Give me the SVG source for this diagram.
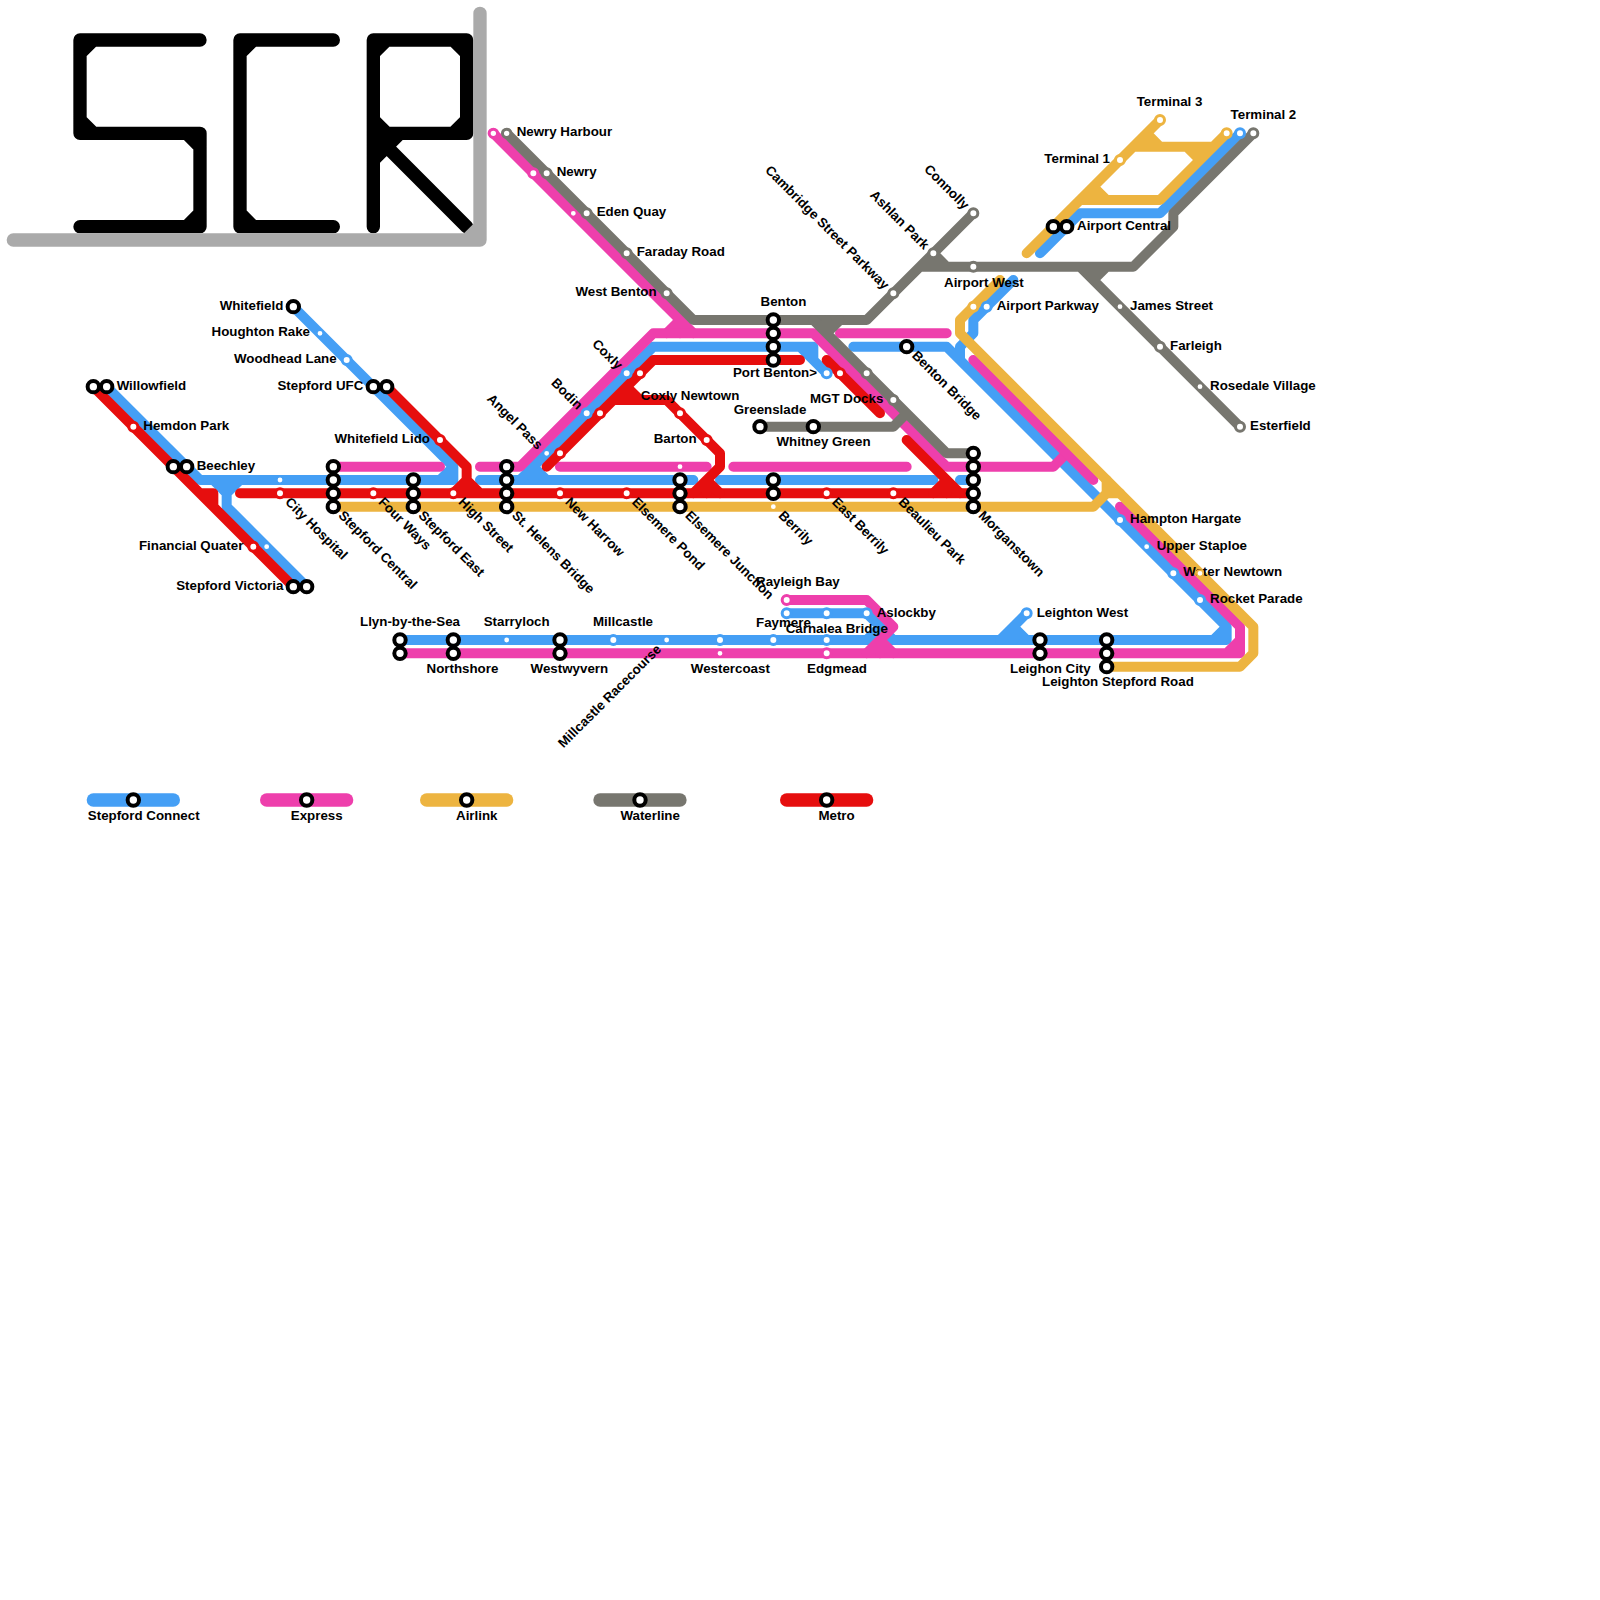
<svg xmlns="http://www.w3.org/2000/svg" width="1600" height="1600" viewBox="0 0 1600 1600">
<style>
text{font-family:"Liberation Sans",Arial,sans-serif;font-weight:700;font-size:13.33px;fill:#000}
.e{text-anchor:end}
.ln path{fill:none;stroke-width:.75;stroke-linecap:round;stroke-linejoin:round}
.ln path.k{stroke-width:1}
.bl{stroke:#459ff5}.pk{stroke:#ee3fac}.ye{stroke:#edb440}.gy{stroke:#77766f}.rd{stroke:#e60e0e}
.tt path{fill:none;stroke-width:1;stroke-linecap:round;stroke-linejoin:round}
circle{fill:#fff}
.i{stroke:#000;stroke-width:4}
.m{stroke-width:3}
.s{stroke-width:1.6}
</style>
<rect width="1600" height="1600" fill="#fff"/>
<g id="title" class="tt" transform="scale(13.3333)">
<path stroke="#000" d="M15 3H6V10H15V17H6M6 4L7 3M6 9L7 10M14 10L15 11M15 16L14 17"/>
<path stroke="#000" d="M25 3H18V17H25M18 4L19 3M18 16L19 17"/>
<path stroke="#000" d="M28 17V3H35V10H28M28 10L35 17M28 4L29 3M34 3L35 4M35 9L34 10M28 9L29 10M28 12L30 10"/>
<path stroke="#aaa" d="M36 1V18H1M35 18L36 17"/>
</g>
<g id="connectors" class="ln" transform="scale(13.3333)">
<g id="line-stepford-connect">
<path class="bl" d="M8 29L15 36H34V35L22 23M33 36L34 35M16 36L17 37L18 36M17 36V38L23 44"/>
<path class="bl" d="M36 36H52M54 36H70M72 36H73"/>
<path class="bl" d="M39 36L49 26H61V27L62 28M60 26L61 27M40 35L41 36M40 35V36"/>
<path class="bl" d="M64 26H71L92 47V48H30M91 48L92 47M72 26V27M76 21L73 24V25L72 26"/>
<path class="bl" d="M78 19L81 16H87L93 10"/>
<path class="bl" d="M59 46H65L67 48M65 48L66 47M66 47V48"/>
<path class="bl" d="M77 46L75 48M76 47L77 48M76 47V48"/>
<path class="bl k" d="M7 60H13"/>
</g>
<g id="line-express">
<path class="pk" d="M37 10L52 25M50 25L51 24M51 24V25"/>
<path class="pk" d="M25 35H33M36 35H39L49 25H61L71 35H79L80 34M42 35H53M55 35H68M63 25H71"/>
<path class="pk" d="M73 27L82 36M84 38L93 47V49H30M92 49L93 48"/>
<path class="pk" d="M59 45H65L67 47L65 49M66 48L67 49M66 48V49"/>
<path class="pk k" d="M20 60H26"/>
</g>
<g id="line-airlink">
<path class="ye" d="M25 38H82L83 37H84M83 37V36"/>
<path class="ye" d="M75 21L72 24V25L94 47V49L93 50H83"/>
<path class="ye" d="M77 19L87 9M86 10L87 11M86 10V11M85 11H91M89 11L90 12M90 11V12M81 15H87L92 10M82 14L83 15M82 14V15"/>
<path class="ye k" d="M32 60H38"/>
</g>
<g id="line-waterline">
<path class="gy" d="M38 10L52 24H65L73 16M70 19L71 20M70 19V20M69 20H85L88 17V16L94 10M81 20L93 32M82 21L83 20M82 20V21"/>
<path class="gy" d="M61 24L71 34H73M62 25L63 24M62 24V25M57 32H67L68 31"/>
<path class="gy k" d="M45 60H51"/>
</g>
<g id="line-metro">
<path class="rd" d="M7 29L22 44M15 37H16V38"/>
<path class="rd" d="M18 37H73M29 29L35 35V37M34 37L35 36L36 37"/>
<path class="rd" d="M41 35L49 27H60M62 27L66 31M45 31L46 30H50L54 34V35L52 37M47 29L48 30M47 29V30M53 36L54 37M53 36V37"/>
<path class="rd" d="M68 33L72 37M71 36L70 37M71 36V37"/>
<path class="rd k" d="M59 60H65"/>
</g>
</g>
<g id="nodes">
<g id="n-willowfield"><text x="116.67" y="389.67">Willowfield</text><circle class="i" cx="93.33" cy="386.67" r="5.7"/><circle class="i" cx="106.67" cy="386.67" r="5.7"/></g>
<g id="n-hemdon-park"><text x="143.33" y="429.67">Hemdon Park</text><circle class="m rd" cx="133.33" cy="426.67" r="4.5"/></g>
<g id="n-beechley"><text x="196.67" y="469.67">Beechley</text><circle class="i" cx="173.33" cy="466.67" r="5.7"/><circle class="i" cx="186.67" cy="466.67" r="5.7"/></g>
<g id="n-financial-quater"><text class="e" x="243.33" y="549.67">Financial Quater</text><circle class="m rd" cx="253.33" cy="546.67" r="4.5"/><circle class="s bl" cx="266.67" cy="546.67" r="3.2"/></g>
<g id="n-stepford-victoria"><text class="e" x="283.33" y="589.67">Stepford Victoria</text><circle class="i" cx="293.33" cy="586.67" r="5.7"/><circle class="i" cx="306.67" cy="586.67" r="5.7"/></g>
<g id="n-whitefield"><text class="e" x="283.33" y="309.67">Whitefield</text><circle class="i" cx="293.33" cy="306.67" r="5.7"/></g>
<g id="n-houghton-rake"><text class="e" x="310" y="336.33">Houghton Rake</text><circle class="s bl" cx="320" cy="333.33" r="3.2"/></g>
<g id="n-woodhead-lane"><text class="e" x="336.67" y="363">Woodhead Lane</text><circle class="m bl" cx="346.67" cy="360" r="4.5"/></g>
<g id="n-stepford-ufc"><text class="e" x="363.33" y="389.67">Stepford UFC</text><circle class="i" cx="373.33" cy="386.67" r="5.7"/><circle class="i" cx="386.67" cy="386.67" r="5.7"/></g>
<g id="n-whitefield-lido"><text class="e" x="430" y="443">Whitefield Lido</text><circle class="m rd" cx="440" cy="440" r="4.5"/></g>
<g id="n-city-hospital"><text x="284.5" y="502.83" transform="rotate(45 284.5 502.83)">City Hospital</text><circle class="s bl" cx="280" cy="480" r="3.2"/><circle class="m rd" cx="280" cy="493.33" r="4.5"/></g>
<g id="n-stepford-central"><text x="337.83" y="516.17" transform="rotate(45 337.83 516.17)">Stepford Central</text><circle class="i" cx="333.33" cy="466.67" r="5.7"/><circle class="i" cx="333.33" cy="480" r="5.7"/><circle class="i" cx="333.33" cy="493.33" r="5.7"/><circle class="i" cx="333.33" cy="506.67" r="5.7"/></g>
<g id="n-four-ways"><text x="377.83" y="502.83" transform="rotate(45 377.83 502.83)">Four Ways</text><circle class="m rd" cx="373.33" cy="493.33" r="4.5"/></g>
<g id="n-stepford-east"><text x="417.83" y="516.17" transform="rotate(45 417.83 516.17)">Stepford East</text><circle class="i" cx="413.33" cy="480" r="5.7"/><circle class="i" cx="413.33" cy="493.33" r="5.7"/><circle class="i" cx="413.33" cy="506.67" r="5.7"/></g>
<g id="n-high-street"><text x="457.83" y="502.83" transform="rotate(45 457.83 502.83)">High Street</text><circle class="m rd" cx="453.33" cy="493.33" r="4.5"/></g>
<g id="n-st-helens-bridge"><text x="511.17" y="516.17" transform="rotate(45 511.17 516.17)">St. Helens Bridge</text><circle class="i" cx="506.67" cy="466.67" r="5.7"/><circle class="i" cx="506.67" cy="480" r="5.7"/><circle class="i" cx="506.67" cy="493.33" r="5.7"/><circle class="i" cx="506.67" cy="506.67" r="5.7"/></g>
<g id="n-new-harrow"><text x="564.5" y="502.83" transform="rotate(45 564.5 502.83)">New Harrow</text><circle class="m rd" cx="560" cy="493.33" r="4.5"/></g>
<g id="n-elsemere-pond"><text x="631.17" y="502.83" transform="rotate(45 631.17 502.83)">Elsemere Pond</text><circle class="m rd" cx="626.67" cy="493.33" r="4.5"/></g>
<g id="n-elsemere-junction"><text x="684.5" y="516.17" transform="rotate(45 684.5 516.17)">Elsemere Junction</text><circle class="s pk" cx="680" cy="466.67" r="3.2"/><circle class="i" cx="680" cy="480" r="5.7"/><circle class="i" cx="680" cy="493.33" r="5.7"/><circle class="i" cx="680" cy="506.67" r="5.7"/></g>
<g id="n-berrily"><text x="777.83" y="516.17" transform="rotate(45 777.83 516.17)">Berrily</text><circle class="i" cx="773.33" cy="480" r="5.7"/><circle class="i" cx="773.33" cy="493.33" r="5.7"/><circle class="s ye" cx="773.33" cy="506.67" r="3.2"/></g>
<g id="n-east-berrily"><text x="831.17" y="502.83" transform="rotate(45 831.17 502.83)">East Berrily</text><circle class="m rd" cx="826.67" cy="493.33" r="4.5"/></g>
<g id="n-beaulieu-park"><text x="897.83" y="502.83" transform="rotate(45 897.83 502.83)">Beaulieu Park</text><circle class="m rd" cx="893.33" cy="493.33" r="4.5"/></g>
<g id="n-morganstown"><text x="977.83" y="516.17" transform="rotate(45 977.83 516.17)">Morganstown</text><circle class="i" cx="973.33" cy="453.33" r="5.7"/><circle class="i" cx="973.33" cy="466.67" r="5.7"/><circle class="i" cx="973.33" cy="480" r="5.7"/><circle class="i" cx="973.33" cy="493.33" r="5.7"/><circle class="i" cx="973.33" cy="506.67" r="5.7"/></g>
<g id="n-angel-pass"><text class="e" x="537.17" y="450.33" transform="rotate(45 537.17 450.33)">Angel Pass</text><circle class="s bl" cx="546.67" cy="453.33" r="3.2"/><circle class="m rd" cx="560" cy="453.33" r="4.5"/></g>
<g id="n-bodin"><text class="e" x="577.17" y="410.33" transform="rotate(45 577.17 410.33)">Bodin</text><circle class="m bl" cx="586.67" cy="413.33" r="4.5"/><circle class="m rd" cx="600" cy="413.33" r="4.5"/></g>
<g id="n-coxly"><text class="e" x="617.17" y="370.33" transform="rotate(45 617.17 370.33)">Coxly</text><circle class="m bl" cx="626.67" cy="373.33" r="4.5"/><circle class="m rd" cx="640" cy="373.33" r="4.5"/></g>
<g id="n-coxly-newtown"><text x="640.8" y="400">Coxly Newtown</text><circle class="m rd" cx="680" cy="413.33" r="4.5"/></g>
<g id="n-barton"><text class="e" x="696.67" y="443">Barton</text><circle class="m rd" cx="706.67" cy="440" r="4.5"/></g>
<g id="n-benton"><text x="760.5" y="305.67">Benton</text><circle class="i" cx="773.33" cy="320" r="5.7"/><circle class="i" cx="773.33" cy="333.33" r="5.7"/><circle class="i" cx="773.33" cy="346.67" r="5.7"/><circle class="i" cx="773.33" cy="360" r="5.7"/></g>
<g id="n-port-benton"><text class="e" x="817" y="377.33">Port Benton&gt;</text><circle class="m bl" cx="826.67" cy="373.33" r="4.5"/><circle class="m rd" cx="840" cy="373.33" r="4.5"/></g>
<g id="n-unnamed-65-28"><circle class="m gy" cx="866.67" cy="373.33" r="4.5"/></g>
<g id="n-mgt-docks"><text class="e" x="883.33" y="403">MGT Docks</text><circle class="m gy" cx="893.33" cy="400" r="4.5"/></g>
<g id="n-greenslade"><text x="733.7" y="414">Greenslade</text><circle class="i" cx="760" cy="426.67" r="5.7"/></g>
<g id="n-whitney-green"><text x="776.5" y="446">Whitney Green</text><circle class="i" cx="813.33" cy="426.67" r="5.7"/></g>
<g id="n-benton-bridge"><text x="911.17" y="356.17" transform="rotate(45 911.17 356.17)">Benton Bridge</text><circle class="i" cx="906.67" cy="346.67" r="5.7"/></g>
<g id="n-newry-harbour"><text x="516.67" y="136.33">Newry Harbour</text><circle class="m pk" cx="493.33" cy="133.33" r="4.2"/><circle class="m gy" cx="506.67" cy="133.33" r="4.2"/></g>
<g id="n-newry"><text x="556.67" y="176.33">Newry</text><circle class="m pk" cx="533.33" cy="173.33" r="4.5"/><circle class="m gy" cx="546.67" cy="173.33" r="4.5"/></g>
<g id="n-eden-quay"><text x="596.67" y="216.33">Eden Quay</text><circle class="s pk" cx="573.33" cy="213.33" r="3.2"/><circle class="m gy" cx="586.67" cy="213.33" r="4.5"/></g>
<g id="n-faraday-road"><text x="636.67" y="256.33">Faraday Road</text><circle class="m gy" cx="626.67" cy="253.33" r="4.5"/></g>
<g id="n-west-benton"><text class="e" x="656.67" y="296.33">West Benton</text><circle class="m gy" cx="666.67" cy="293.33" r="4.5"/></g>
<g id="n-cambridge-street-parkway"><text class="e" x="883.83" y="290.33" transform="rotate(45 883.83 290.33)">Cambridge Street Parkway</text><circle class="m gy" cx="893.33" cy="293.33" r="4.5"/></g>
<g id="n-ashlan-park"><text class="e" x="923.83" y="250.33" transform="rotate(45 923.83 250.33)">Ashlan Park</text><circle class="m gy" cx="933.33" cy="253.33" r="4.5"/></g>
<g id="n-connolly"><text class="e" x="963.83" y="210.33" transform="rotate(45 963.83 210.33)">Connolly</text><circle class="m gy" cx="973.33" cy="213.33" r="4.5"/></g>
<g id="n-airport-west"><text x="944" y="287">Airport West</text><circle class="m gy" cx="973.33" cy="266.67" r="4.5"/></g>
<g id="n-airport-parkway"><text x="996.67" y="309.67">Airport Parkway</text><circle class="m ye" cx="973.33" cy="306.67" r="4.5"/><circle class="m bl" cx="986.67" cy="306.67" r="4.5"/></g>
<g id="n-airport-central"><text x="1077" y="230">Airport Central</text><circle class="i" cx="1053.33" cy="226.67" r="5.7"/><circle class="i" cx="1066.67" cy="226.67" r="5.7"/></g>
<g id="n-terminal-1"><text class="e" x="1110" y="162.5">Terminal 1</text><circle class="m ye" cx="1120" cy="160" r="4.5"/></g>
<g id="n-terminal-3"><text x="1136.7" y="105.67">Terminal 3</text><circle class="m ye" cx="1160" cy="120" r="4.5"/></g>
<g id="n-terminal-2"><text x="1230.6" y="119">Terminal 2</text><circle class="m ye" cx="1226.67" cy="133.33" r="4.5"/><circle class="m bl" cx="1240" cy="133.33" r="4.5"/><circle class="m gy" cx="1253.33" cy="133.33" r="4.5"/></g>
<g id="n-james-street"><text x="1130" y="309.67">James Street</text><circle class="s gy" cx="1120" cy="306.67" r="3.2"/></g>
<g id="n-farleigh"><text x="1170" y="349.67">Farleigh</text><circle class="m gy" cx="1160" cy="346.67" r="4.5"/></g>
<g id="n-rosedale-village"><text x="1210" y="389.67">Rosedale Village</text><circle class="s gy" cx="1200" cy="386.67" r="3.2"/></g>
<g id="n-esterfield"><text x="1250" y="429.67">Esterfield</text><circle class="m gy" cx="1240" cy="426.67" r="4.5"/></g>
<g id="n-hampton-hargate"><text x="1130" y="523">Hampton Hargate</text><circle class="m bl" cx="1120" cy="520" r="4.5"/></g>
<g id="n-upper-staploe"><text x="1156.67" y="549.67">Upper Staploe</text><circle class="s bl" cx="1146.67" cy="546.67" r="3.2"/></g>
<g id="n-water-newtown"><text x="1183.33" y="576.33">Water Newtown</text><circle class="m bl" cx="1173.33" cy="573.33" r="4.5"/><circle class="s ye" cx="1200" cy="573.33" r="3.2"/></g>
<g id="n-rocket-parade"><text x="1210" y="603">Rocket Parade</text><circle class="m bl" cx="1200" cy="600" r="4.5"/></g>
<g id="n-llyn-by-the-sea"><text x="360" y="626">Llyn-by-the-Sea</text><circle class="i" cx="400" cy="640" r="5.7"/><circle class="i" cx="400" cy="653.33" r="5.7"/></g>
<g id="n-northshore"><text x="426.5" y="673">Northshore</text><circle class="i" cx="453.33" cy="640" r="5.7"/><circle class="i" cx="453.33" cy="653.33" r="5.7"/></g>
<g id="n-starryloch"><text x="483.7" y="626">Starryloch</text><circle class="s bl" cx="506.67" cy="640" r="3.2"/></g>
<g id="n-westwyvern"><text x="530.6" y="673">Westwyvern</text><circle class="i" cx="560" cy="640" r="5.7"/><circle class="i" cx="560" cy="653.33" r="5.7"/></g>
<g id="n-millcastle"><text x="593" y="626">Millcastle</text><circle class="m bl" cx="613.33" cy="640" r="4.5"/></g>
<g id="n-millcastle-racecourse"><text class="e" x="662" y="650" transform="rotate(-45 662 650)">Millcastle Racecourse</text><circle class="s bl" cx="666.67" cy="640" r="3.2"/></g>
<g id="n-westercoast"><text x="690.8" y="673">Westercoast</text><circle class="m bl" cx="720" cy="640" r="4.5"/><circle class="s pk" cx="720" cy="653.33" r="3.2"/></g>
<g id="n-faymere"><text x="756" y="627">Faymere</text><circle class="m bl" cx="773.33" cy="640" r="4.5"/></g>
<g id="n-carnalea-bridge"><text x="785.7" y="633">Carnalea Bridge</text><circle class="m bl" cx="826.67" cy="640" r="4.5"/></g>
<g id="n-edgmead"><text x="807" y="673">Edgmead</text><circle class="m pk" cx="826.67" cy="653.33" r="4.5"/></g>
<g id="n-rayleigh-bay"><text x="756" y="586">Rayleigh Bay</text><circle class="m pk" cx="786.67" cy="600" r="4.5"/></g>
<g id="n-aslockby"><text x="876.67" y="617.33">Aslockby</text><circle class="m bl" cx="786.67" cy="613.33" r="4.5"/><circle class="m bl" cx="826.67" cy="613.33" r="4.5"/><circle class="m bl" cx="866.67" cy="613.33" r="4.5"/></g>
<g id="n-leighton-west"><text x="1036.67" y="617.33">Leighton West</text><circle class="m bl" cx="1026.67" cy="613.33" r="4.5"/></g>
<g id="n-leighon-city"><text x="1010" y="673">Leighon City</text><circle class="i" cx="1040" cy="640" r="5.7"/><circle class="i" cx="1040" cy="653.33" r="5.7"/></g>
<g id="n-leighton-stepford-road"><text x="1042" y="686">Leighton Stepford Road</text><circle class="i" cx="1106.67" cy="640" r="5.7"/><circle class="i" cx="1106.67" cy="653.33" r="5.7"/><circle class="i" cx="1106.67" cy="666.67" r="5.7"/></g>
</g>
<g id="legend">
<g id="k-stepford-connect"><circle class="i" cx="133.33" cy="800" r="5.7"/><text x="87.8" y="820">Stepford Connect</text></g>
<g id="k-express"><circle class="i" cx="306.67" cy="800" r="5.7"/><text x="290.8" y="820">Express</text></g>
<g id="k-airlink"><circle class="i" cx="466.67" cy="800" r="5.7"/><text x="456" y="820">Airlink</text></g>
<g id="k-waterline"><circle class="i" cx="640" cy="800" r="5.7"/><text x="620.4" y="820">Waterline</text></g>
<g id="k-metro"><circle class="i" cx="826.67" cy="800" r="5.7"/><text x="818.4" y="820">Metro</text></g>
</g>
</svg>
